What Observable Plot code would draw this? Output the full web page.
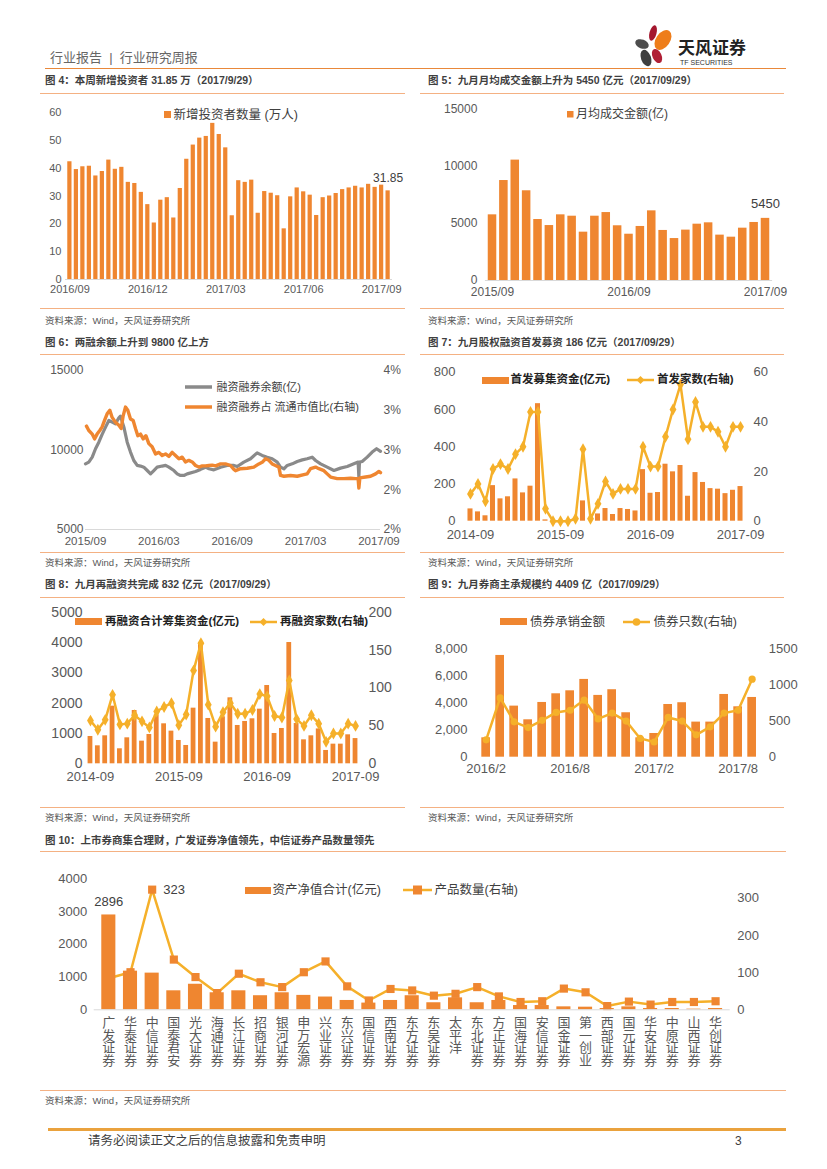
<!DOCTYPE html>
<html><head><meta charset="utf-8">
<script src="https://cdn.jsdelivr.net/npm/d3@7"></script>
<script src="https://cdn.jsdelivr.net/npm/@observablehq/plot@0.6"></script>
<style>
body{margin:0;background:#fff;}
#page{position:relative;width:827px;height:1169px;overflow:hidden;background:#fff;}
</style></head><body><div id="page"></div>
<script>
// ---------------- DATA ----------------
// Fig 4: weekly new investors (万人), 2016/09 - 2017/09
const fig4Values = [42.3,39.5,40.5,40.7,37.2,38.8,42.9,39.6,40.3,34.9,34.5,31.3,26.9,20.3,28.5,29.4,22.1,32.7,43.2,48.3,50.8,51.4,56.1,52.1,47.3,22.9,35.5,34.9,35.7,23.8,31.6,31.0,30.1,18.2,29.7,32.9,31.5,30.3,23.0,29.4,30.0,30.9,32.3,32.9,33.5,32.9,34.2,33.1,33.9,31.85];
const fig4TickIdx = [0,12,24,36,48];
const fig4TickLabels = ["2016/09","2016/12","2017/03","2017/06","2017/09"];

// Fig 5: monthly avg turnover (亿), 2015/09 - 2017/09
const fig5Values = [5760,8770,10560,7870,5350,4820,5760,5640,4240,5640,5960,4800,4060,4740,6110,4390,3680,4420,4940,5060,3980,3800,4590,5090,5450];
const fig5TickIdx = [0,12,24];
const fig5TickLabels = ["2015/09","2016/09","2017/09"];

// Fig 6: margin balance (亿, left) and ratio (% , right); t = months since 2015/09
const fig6GrayT = [0,0.27,0.55,0.82,1.09,1.36,1.64,1.91,2.18,2.45,2.73,2.86,3.14,3.41,3.68,3.95,4.23,4.5,4.77,5.05,5.32,5.59,5.86,6.27,6.55,6.82,7.23,7.5,7.77,8.05,8.32,9,9.41,9.82,10.1,10.5,11.05,11.59,12.14,12.41,12.95,13.5,14.04,14.45,14.86,15.27,15.68,15.95,16.23,16.5,16.91,17.32,17.73,18.13,18.54,18.82,19.23,19.77,20.32,20.86,21.41,21.95,22.3,22.36,22.41,22.63,23.04,23.45,23.81,24.13];
const fig6GrayV = [9130,9240,9550,10080,10490,10980,11440,11860,11750,11650,12020,12130,11440,10490,9870,9340,9030,8990,8920,8710,8500,8710,8920,8990,9030,8920,8710,8500,8400,8400,8500,8650,8780,8920,8820,8750,8920,9030,9030,8960,9240,9450,9820,9660,9550,9450,9240,8920,8820,9030,9130,9280,9380,9450,9550,9340,9130,8920,8710,8860,8960,9130,9240,8290,9240,9280,9550,9870,10080,9910];
const fig6OrangeT = [0.08,0.27,0.55,0.74,0.95,1.17,1.36,1.55,1.77,1.99,2.18,2.45,2.73,2.92,3.08,3.27,3.46,3.68,3.9,4.09,4.28,4.5,4.72,4.94,5.18,5.45,5.73,6,6.27,6.55,6.82,7.09,7.36,7.64,7.91,8.18,8.45,8.73,9,9.27,9.55,9.82,10.09,10.36,10.64,11.05,11.45,11.86,12.14,12.27,12.68,13.23,13.77,14.18,14.45,14.73,15,15.27,15.54,15.82,15.95,16.23,16.77,17.32,17.86,18.13,18.41,18.82,19.09,19.5,19.77,20.05,20.59,21.14,21.68,22.09,22.3,22.36,22.44,22.91,23.32,23.73,24,24.13];
const fig6OrangeP = [3.30,3.245,3.20,3.14,3.20,3.245,3.29,3.37,3.455,3.50,3.41,3.35,3.31,3.27,3.43,3.54,3.50,3.39,3.37,3.27,3.18,3.20,3.14,3.18,3.08,3.04,2.95,2.97,2.93,2.95,2.92,2.97,2.93,2.89,2.91,2.85,2.87,2.85,2.805,2.785,2.80,2.80,2.805,2.81,2.80,2.825,2.825,2.805,2.755,2.74,2.765,2.77,2.785,2.825,2.845,2.89,2.87,2.825,2.805,2.785,2.68,2.67,2.68,2.67,2.69,2.70,2.765,2.785,2.765,2.74,2.70,2.66,2.64,2.64,2.645,2.64,2.64,2.52,2.65,2.66,2.67,2.70,2.73,2.715];
const fig6TickT = [0,6,12,18,24];
const fig6TickLabels = ["2015/09","2016/03","2016/09","2017/03","2017/09"];
const fig6LeftTicks = [5000,10000,15000];
const fig6RightTicks = [2.0,2.5,3.0,3.5,4.0];
const fig6RightLabels = ["2%","2%","3%","3%","4%"];

// Fig 7: IPO funds (亿元) and IPO count (right), 2014-09 - 2017-09
const fig7Funds = [66,50,29,191,120,131,227,152,188,631,7,0,0,0,0,109,0,39,68,36,68,63,55,277,150,154,306,265,299,134,261,208,175,172,148,166,186];
const fig7Count = [11,15,8,21,23,21,27,30,44,44,5,0,0,0,1,29,1,7,16,11,13,13,13,30,22,22,34,45,55,33,48,38,38,36,30,38,38];
const monthTickIdx = [0,12,24,36];
const monthTickLabels = ["2014-09","2015-09","2016-09","2017-09"];

// Fig 8: refinancing funds (亿元) and count (right), 2014-09 - 2017-09
const fig8Funds = [901,593,923,1901,495,857,1758,747,967,1615,1319,1077,769,604,1835,3990,1495,714,1550,2176,1264,1396,1484,1802,2582,1000,1165,4000,1330,791,923,1150,440,648,648,956,832];
const fig8Count = [57,45,58,91,52,53,64,56,48,69,75,80,51,65,123,159,78,49,68,80,66,66,71,92,89,63,61,110,59,50,64,53,29,40,40,53,50];

// Fig 9: bond underwriting amount and count (right), 2016/2 - 2017/9
const fig9Amount = [1430,7510,3770,2760,4040,4680,4900,5740,4560,4980,3280,1430,1750,3890,4020,2590,2590,4630,3720,4409];
const fig9Count = [240,820,490,410,510,620,650,790,530,610,500,260,210,550,500,310,420,610,650,1080];
const fig9TickIdx = [0,6,12,18];
const fig9TickLabels = ["2016/2","2016/8","2017/2","2017/8"];

// Fig 10: brokers' collective asset management
const fig10Names = ["广发证券","华泰证券","中信证券","国泰君安","光大证券","海通证券","长江证券","招商证券","银河证券","申万宏源","兴业证券","东兴证券","国信证券","西南证券","东方证券","东吴证券","太平洋","东北证券","方正证券","国海证券","安信证券","国金证券","第一创业","西部证券","国元证券","华安证券","中原证券","山西证券","华创证券"];
const fig10Assets = [2896,1180,1120,580,780,520,580,430,520,440,390,285,205,285,430,215,365,215,285,130,130,90,80,40,90,40,40,20,40];
const fig10Count = [85,101,323,135,88,45,97,74,61,101,130,63,25,56,52,38,43,61,36,21,23,57,47,10,22,14,21,21,23];

// ---------------- STYLE HELPERS ----------------
const FONT = '"Liberation Sans","Noto Sans CJK SC",Arial,sans-serif';
const ORANGE = "#EF8630";
const GOLD = "#F5B02A";
const GRAY = "#8A8A8A";
const TXT = "#404040";
const AX = "#595959";
const page = document.getElementById("page");

function T(s, x, y, o = {}) {
  const d = document.createElement("div");
  d.textContent = s;
  const tx = o.anchor === "end" ? "-100%" : o.anchor === "middle" ? "-50%" : "0";
  d.style.cssText = `position:absolute;left:${x}px;top:${y}px;transform:translate(${tx},-50%);white-space:pre;line-height:1;font-size:${o.size || 11}px;font-weight:${o.bold ? "bold" : "normal"};color:${o.color || TXT};font-family:${FONT};letter-spacing:${o.ls || 0}px;`;
  page.appendChild(d);
}
function HL(x1, x2, y, color = "#F4B183", w = 1) {
  const d = document.createElement("div");
  d.style.cssText = `position:absolute;left:${x1}px;top:${y - w / 2}px;width:${x2 - x1}px;height:${w}px;background:${color};`;
  page.appendChild(d);
}
function S(x, y, w, h, inner) {
  const d = document.createElement("div");
  d.style.cssText = `position:absolute;left:${x}px;top:${y}px;width:${w}px;height:${h}px;`;
  d.innerHTML = `<svg width="${w}" height="${h}" style="display:block;overflow:visible">${inner}</svg>`;
  page.appendChild(d);
}
function put(el, x, y) {
  el.style.position = "absolute";
  el.style.left = x + "px";
  el.style.top = y + "px";
  el.style.maxWidth = "none";
  page.appendChild(el);
}
const plotStyle = (fs) => ({fontFamily: FONT, fontSize: fs + "px", color: AX, background: "transparent", overflow: "visible"});
function diamond(cx, cy, r, c) { return `<path d="M${cx},${cy - r}L${cx + r},${cy}L${cx},${cy + r}L${cx - r},${cy}Z" fill="${c}"/>`; }

// ---------------- PAGE FRAME ----------------
T("行业报告  |  行业研究周报", 50, 57, {size: 13, color: "#666"});
S(630, 22, 45, 48,
  `<ellipse cx="23" cy="11" rx="3.5" ry="8" fill="#A4172E" transform="rotate(15 23 11)"/>
   <ellipse cx="33" cy="18" rx="7" ry="11" fill="#EE7D1A" transform="rotate(35 33 18)"/>
   <ellipse cx="12" cy="22" rx="7" ry="4.5" fill="#4D4D4D" transform="rotate(20 12 22)"/>
   <ellipse cx="16" cy="36" rx="5" ry="8.5" fill="#3F3F3F" transform="rotate(-20 16 36)"/>
   <ellipse cx="27" cy="34" rx="4.5" ry="7.5" fill="#B01F35" transform="rotate(-25 27 34)"/>`);
T("天风证券", 678, 48, {size: 17, bold: true, color: "#222"});
T("TF SECURITIES", 680, 62, {size: 7, color: "#333"});
HL(45, 786, 68.5, "#E9883A", 1.6);

// titles and rules
T("图 4：本周新增投资者 31.85 万（2017/9/29）", 45, 80, {size: 10.5, bold: true, color: "#3f3f3f"});
T("图 5：九月月均成交金额上升为 5450 亿元（2017/09/29）", 428, 80, {size: 10.5, bold: true, color: "#3f3f3f"});
HL(40, 405, 93.5); HL(420, 784, 93.5);
HL(40, 405, 308); HL(420, 784, 308);
T("资料来源：Wind，天风证券研究所", 45, 321, {size: 9.5, color: AX});
T("资料来源：Wind，天风证券研究所", 428, 321, {size: 9.5, color: AX});

T("图 6：两融余额上升到 9800 亿上方", 45, 342, {size: 10.5, bold: true, color: "#3f3f3f"});
T("图 7：九月股权融资首发募资 186 亿元（2017/09/29）", 428, 342, {size: 10.5, bold: true, color: "#3f3f3f"});
HL(40, 405, 354); HL(420, 784, 354);
HL(40, 405, 552); HL(420, 784, 552);
T("资料来源：Wind，天风证券研究所", 45, 563, {size: 9.5, color: AX});
T("资料来源：Wind，天风证券研究所", 428, 563, {size: 9.5, color: AX});

T("图 8：九月再融资共完成 832 亿元（2017/09/29）", 45, 584, {size: 10.5, bold: true, color: "#3f3f3f"});
T("图 9：九月券商主承规模约 4409 亿（2017/09/29）", 428, 584, {size: 10.5, bold: true, color: "#3f3f3f"});
HL(40, 405, 597); HL(420, 784, 597);
HL(40, 405, 807); HL(420, 784, 807);
T("资料来源：Wind，天风证券研究所", 45, 818, {size: 9.5, color: AX});
T("资料来源：Wind，天风证券研究所", 428, 818, {size: 9.5, color: AX});

T("图 10：上市券商集合理财，广发证券净值领先，中信证券产品数量领先", 45, 840, {size: 10.5, bold: true, color: "#3f3f3f"});
HL(40, 786, 851.5);
HL(40, 786, 1090);
T("资料来源：Wind，天风证券研究所", 45, 1101, {size: 9.5, color: AX});
HL(48, 786, 1129, "#EAA23D", 3);
T("请务必阅读正文之后的信息披露和免责申明", 88, 1141, {size: 12.5, color: "#404040"});
T("3", 735, 1141, {size: 12, color: "#404040"});

// ---------------- FIG 4 ----------------
{
  const data = fig4Values.map((v, i) => ({i, v}));
  const last = data[data.length - 1];
  put(Plot.plot({
    width: 365, height: 210, marginTop: 17, marginBottom: 26, marginLeft: 25, marginRight: 13,
    style: plotStyle(11),
    x: {type: "band", domain: d3.range(data.length), paddingInner: 0.35, paddingOuter: 0.35, round: false, label: null},
    y: {domain: [0, 60], label: null},
    marks: [
      Plot.barY(data, {x: "i", y: "v", fill: ORANGE}),
      Plot.ruleY([0], {stroke: "#D9D9D9"}),
      Plot.axisY({ticks: [0, 10, 20, 30, 40, 50, 60], tickSize: 0, tickPadding: 4, label: null, fontSize: 11}),
      Plot.axisX({ticks: fig4TickIdx, tickSize: 0, tickPadding: 6, label: null, fontSize: 11,
        tickFormat: d => fig4TickLabels[fig4TickIdx.indexOf(d)]}),
      Plot.text([last], {x: "i", y: "v", text: d => d.v.toFixed(2), dy: -13, fontSize: 12, fill: TXT})
    ]
  }), 40, 95);
  S(164, 111, 8, 8, `<rect width="7" height="7" fill="${ORANGE}"/>`);
  T("新增投资者数量 (万人)", 173.5, 115, {size: 12.5, color: TXT});
}

// ---------------- FIG 5 ----------------
{
  const data = fig5Values.map((v, i) => ({i, v}));
  const last = data[data.length - 1];
  put(Plot.plot({
    width: 380, height: 210, marginTop: 14, marginBottom: 25, marginLeft: 64.9, marginRight: 27.9,
    style: plotStyle(12),
    x: {type: "band", domain: d3.range(data.length), paddingInner: 0.25, paddingOuter: 0.25, round: false, label: null},
    y: {domain: [0, 15000], label: null},
    marks: [
      Plot.barY(data, {x: "i", y: "v", fill: ORANGE}),
      Plot.ruleY([0], {stroke: "#D9D9D9"}),
      Plot.axisY({ticks: [0, 5000, 10000, 15000], tickFormat: d => String(d), tickSize: 0, tickPadding: 8, label: null, fontSize: 12}),
      Plot.axisX({ticks: fig5TickIdx, tickSize: 0, tickPadding: 7, label: null, fontSize: 12,
        tickFormat: d => fig5TickLabels[fig5TickIdx.indexOf(d)]}),
      Plot.text([last], {x: "i", y: "v", text: d => String(d.v), dy: -15, fontSize: 13, fill: TXT})
    ]
  }), 420, 95);
  S(567, 110.5, 7, 7, `<rect width="6.5" height="6.5" fill="${ORANGE}"/>`);
  T("月均成交金额(亿)", 576, 113.5, {size: 12, color: TXT});
}

// ---------------- FIG 6 ----------------
{
  const gray = fig6GrayT.map((t, i) => ({t, v: fig6GrayV[i]}));
  const orange = fig6OrangeT.map((t, i) => ({t, p: fig6OrangeP[i]}));
  const toLeft = p => 5000 + (p - 2) * 5000;
  put(Plot.plot({
    width: 370, height: 192, marginTop: 12, marginBottom: 21, marginLeft: 45, marginRight: 30,
    style: plotStyle(12),
    x: {domain: [0, 24.13], label: null},
    y: {domain: [5000, 15000], label: null},
    marks: [
      Plot.ruleY([5000], {stroke: "#D9D9D9"}),
      Plot.line(gray, {x: "t", y: "v", stroke: GRAY, strokeWidth: 3.2}),
      Plot.line(orange, {x: "t", y: d => toLeft(d.p), stroke: ORANGE, strokeWidth: 3.4}),
      Plot.axisY({ticks: fig6LeftTicks, tickFormat: d => String(d), tickSize: 0, tickPadding: 2, label: null, fontSize: 12}),
      Plot.axisY({anchor: "right", ticks: fig6RightTicks.map(toLeft), tickSize: 0, tickPadding: 3, label: null, fontSize: 12,
        tickFormat: (d) => fig6RightLabels[fig6RightTicks.map(toLeft).indexOf(d)]}),
      Plot.axisX({ticks: fig6TickT, tickSize: 0, tickPadding: 7.5, label: null, fontSize: 11.5,
        tickFormat: d => fig6TickLabels[fig6TickT.indexOf(d)]})
    ]
  }), 40, 358);
  S(185, 384, 28, 6, `<line x1="0" x2="27" y1="3" y2="3" stroke="${GRAY}" stroke-width="3.5"/>`);
  T("融资融券余额(亿)", 216.5, 387, {size: 11, color: TXT});
  S(185, 404, 28, 6, `<line x1="0" x2="27" y1="3" y2="3" stroke="${ORANGE}" stroke-width="3.5"/>`);
  T("融资融券占 流通市值比(右轴)", 216.5, 407, {size: 11, color: TXT});
}

// ---------------- FIG 7 ----------------
{
  const k = 800 / 60;
  const data = fig7Funds.map((v, i) => ({i, v, n: fig7Count[i]}));
  put(Plot.plot({
    width: 380, height: 192, marginTop: 13.7, marginBottom: 29.3, marginLeft: 45, marginRight: 55,
    style: plotStyle(13),
    x: {type: "band", domain: d3.range(data.length), paddingInner: 0.33, paddingOuter: 0.33, round: false, label: null},
    y: {domain: [0, 800], label: null},
    marks: [
      Plot.barY(data, {x: "i", y: "v", fill: ORANGE}),
      Plot.line(data, {x: "i", y: d => d.n * k, stroke: GOLD, strokeWidth: 2.5}),
      Plot.dot(data, {x: "i", y: d => d.n * k, symbol: "diamond", fill: GOLD, r: 3.6}),
      Plot.axisY({ticks: [0, 200, 400, 600, 800], tickSize: 0, tickPadding: 10, label: null, fontSize: 13}),
      Plot.axisY({anchor: "right", ticks: [0, 20, 40, 60].map(v => v * k), tickFormat: d => String(Math.round(d / k)), tickSize: 0, tickPadding: 8, label: null, fontSize: 13}),
      Plot.axisX({ticks: monthTickIdx, tickSize: 0, tickPadding: 9, label: null, fontSize: 13,
        tickFormat: d => monthTickLabels[monthTickIdx.indexOf(d)]})
    ]
  }), 420, 358);
  S(481.5, 376.5, 27, 7, `<rect width="27" height="7" fill="${ORANGE}"/>`);
  T("首发募集资金(亿元)", 510.5, 380, {size: 11.5, bold: true, color: "#222"});
  S(626.5, 375, 28, 10, `<line x1="0" x2="27" y1="5" y2="5" stroke="${GOLD}" stroke-width="2.5"/>${diamond(13.5, 5, 4, GOLD)}`);
  T("首发家数(右轴)", 657, 380, {size: 11.5, bold: true, color: "#222"});
}

// ---------------- FIG 8 ----------------
{
  const k = 5000 / 200;
  const data = fig8Funds.map((v, i) => ({i, v, n: fig8Count[i]}));
  put(Plot.plot({
    width: 370, height: 192, marginTop: 11.7, marginBottom: 28.7, marginLeft: 45, marginRight: 50,
    style: plotStyle(13),
    x: {type: "band", domain: d3.range(data.length), paddingInner: 0.35, paddingOuter: 0.35, round: false, label: null},
    y: {domain: [0, 5000], label: null},
    marks: [
      Plot.barY(data, {x: "i", y: "v", fill: ORANGE}),
      Plot.line(data, {x: "i", y: d => d.n * k, stroke: GOLD, strokeWidth: 2.5}),
      Plot.dot(data, {x: "i", y: d => d.n * k, symbol: "diamond", fill: GOLD, r: 3.6}),
      Plot.axisY({ticks: [0, 1000, 2000, 3000, 4000, 5000], tickFormat: d => String(d), tickSize: 0, tickPadding: 3, label: null, fontSize: 14}),
      Plot.axisY({anchor: "right", ticks: [0, 50, 100, 150, 200].map(v => v * k), tickFormat: d => String(Math.round(d / k)), tickSize: 0, tickPadding: 8, label: null, fontSize: 14}),
      Plot.axisX({ticks: monthTickIdx, tickSize: 0, tickPadding: 8, label: null, fontSize: 13,
        tickFormat: d => monthTickLabels[monthTickIdx.indexOf(d)]})
    ]
  }), 40, 600);
  S(75, 618.2, 27, 7, `<rect width="27" height="7" fill="${ORANGE}"/>`);
  T("再融资合计筹集资金(亿元)", 105, 622, {size: 11.5, bold: true, color: "#222"});
  S(250, 617, 28, 10, `<line x1="0" x2="27" y1="5" y2="5" stroke="${GOLD}" stroke-width="2.5"/>${diamond(13.5, 5, 4, GOLD)}`);
  T("再融资家数(右轴)", 280, 622, {size: 11.5, bold: true, color: "#222"});
}

// ---------------- FIG 9 ----------------
{
  const k = 8000 / 1500;
  const data = fig9Amount.map((v, i) => ({i, v, n: fig9Count[i]}));
  put(Plot.plot({
    width: 380, height: 192, marginTop: 48.3, marginBottom: 35.3, marginLeft: 56, marginRight: 38.7,
    style: plotStyle(13),
    x: {type: "band", domain: d3.range(data.length), paddingInner: 0.38, paddingOuter: 0.38, round: false, label: null},
    y: {domain: [0, 8000], label: null},
    marks: [
      Plot.barY(data, {x: "i", y: "v", fill: ORANGE}),
      Plot.line(data, {x: "i", y: d => d.n * k, stroke: GOLD, strokeWidth: 2.5}),
      Plot.dot(data, {x: "i", y: d => d.n * k, fill: GOLD, r: 3.6}),
      Plot.axisY({ticks: [0, 2000, 4000, 6000, 8000], tickFormat: d3.format(","), tickSize: 0, tickPadding: 9, label: null, fontSize: 13}),
      Plot.axisY({anchor: "right", ticks: [0, 500, 1000, 1500].map(v => v * k), tickFormat: d => String(Math.round(d / k)), tickSize: 0, tickPadding: 7, label: null, fontSize: 13}),
      Plot.axisX({ticks: fig9TickIdx, tickSize: 0, tickPadding: 7, label: null, fontSize: 13,
        tickFormat: d => fig9TickLabels[fig9TickIdx.indexOf(d)]})
    ]
  }), 420, 600);
  S(500, 618.2, 27, 7, `<rect width="27" height="7" fill="${ORANGE}"/>`);
  T("债券承销金额", 530, 622, {size: 12.5, color: TXT});
  S(623, 617, 28, 10, `<line x1="0" x2="27" y1="5" y2="5" stroke="${GOLD}" stroke-width="2.5"/><circle cx="13.5" cy="5" r="3.8" fill="${GOLD}"/>`);
  T("债券只数(右轴)", 653.5, 622, {size: 12.5, color: TXT});
}

// ---------------- FIG 10 ----------------
{
  const k = 4000 / (131 / 111.6 * 300); // right-axis units to left-axis units
  const data = fig10Names.map((name, i) => ({name, v: fig10Assets[i], n: fig10Count[i]}));
  put(Plot.plot({
    width: 760, height: 215, marginTop: 18.3, marginBottom: 65.7, marginLeft: 53.7, marginRight: 70.3,
    style: plotStyle(13),
    x: {type: "band", domain: fig10Names, paddingInner: 0.35, paddingOuter: 0.35, round: false, label: null, axis: null},
    y: {domain: [0, 4000], label: null},
    marks: [
      Plot.line(data, {x: "name", y: d => d.n * k, stroke: GOLD, strokeWidth: 2.5}),
      Plot.dot(data, {x: "name", y: d => d.n * k, symbol: "square", fill: ORANGE, r: 4.6}),
      Plot.barY(data, {x: "name", y: "v", fill: ORANGE}),
      Plot.ruleY([0], {stroke: "#D9D9D9"}),
      Plot.axisY({ticks: [0, 1000, 2000, 3000, 4000], tickFormat: d => String(d), tickSize: 0, tickPadding: 7, label: null, fontSize: 13}),
      Plot.axisY({anchor: "right", ticks: [0, 100, 200, 300].map(v => v * k), tickFormat: d => String(Math.round(d / k)), tickSize: 0, tickPadding: 7, label: null, fontSize: 13}),
      Plot.text(fig10Names, {x: d => d, y: 0, text: d => d.split("").join("\n"), lineAnchor: "top", dy: 8, fontSize: 13, lineHeight: 0.98, fill: AX}),
      Plot.text([data[0]], {x: "name", y: "v", text: d => String(d.v), dy: -13.5, fontSize: 13, fill: TXT}),
      Plot.text([data[2]], {x: "name", y: d => d.n * k, text: d => String(d.n), dx: 11, textAnchor: "start", fontSize: 13, fill: TXT})
    ]
  }), 40, 860);
  S(245, 886.5, 26, 7, `<rect width="26" height="7" fill="${ORANGE}"/>`);
  T("资产净值合计(亿元)", 272.5, 890, {size: 12.5, color: TXT});
  S(403, 885, 30, 10, `<line x1="0" x2="29" y1="5" y2="5" stroke="${GOLD}" stroke-width="2.5"/><rect x="10" y="0.5" width="9" height="9" fill="${ORANGE}"/>`);
  T("产品数量(右轴)", 434.5, 890, {size: 12.5, color: TXT});
}
</script></body></html>
